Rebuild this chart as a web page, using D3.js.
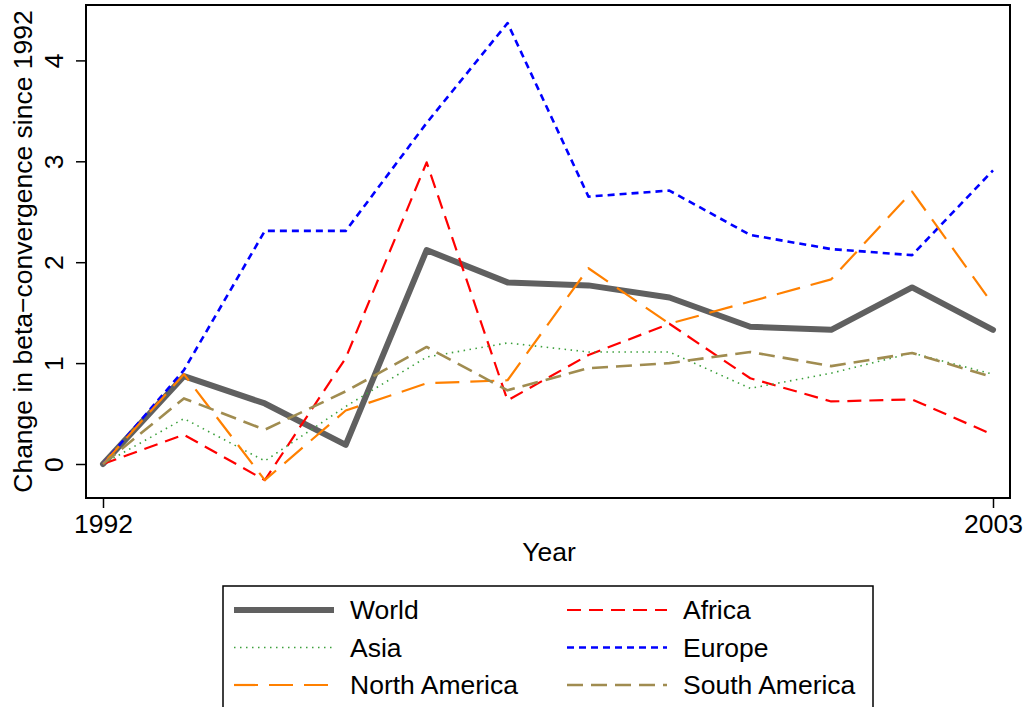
<!DOCTYPE html>
<html>
<head>
<meta charset="utf-8">
<script src="https://cdn.jsdelivr.net/npm/d3@7"></script>
<style>
  html, body { margin: 0; padding: 0; background: #fff; }
  svg text { font-family: "Liberation Sans", Arial, Helvetica, sans-serif; fill: #000; }
</style>
</head>
<body>
<svg id="chart" width="1027" height="707"></svg>
<script>
// Years covered
const years = [1992, 1993, 1994, 1995, 1996, 1997, 1998, 1999, 2000, 2001, 2002, 2003];

// Change in beta-convergence since 1992, by region
const world        = [0, 0.87, 0.60, 0.19, 2.12, 1.80, 1.77, 1.65, 1.36, 1.33, 1.75, 1.33];
const africa       = [0, 0.29, -0.16, 1.05, 2.99, 0.63, 1.08, 1.39, 0.85, 0.62, 0.64, 0.29];
const asia         = [0, 0.45, 0.03, 0.57, 1.06, 1.20, 1.11, 1.11, 0.75, 0.90, 1.10, 0.89];
const europe       = [0, 0.93, 2.31, 2.31, 3.38, 4.37, 2.65, 2.71, 2.27, 2.13, 2.07, 2.91];
const northAmerica = [0, 0.89, -0.16, 0.53, 0.80, 0.83, 1.94, 1.39, 1.61, 1.83, 2.70, 1.58];
const southAmerica = [0, 0.65, 0.34, 0.72, 1.16, 0.73, 0.95, 1.00, 1.11, 0.97, 1.10, 0.86];

const xTicks = [1992, 2003];
const yTicks = [0, 1, 2, 3, 4];

const seriesNames = ["World", "Africa", "Asia", "Europe", "North America", "South America"];
const seriesValues = [world, africa, asia, europe, northAmerica, southAmerica];

// Line styles per series
const styles = {
  "World":         { color: "#606060", width: 6,   dash: null,   cap: "round" },
  "Africa":        { color: "#ff0000", width: 2.2, dash: "14,8", cap: "butt" },
  "Asia":          { color: "#3ca03c", width: 1.6, dash: "1.5,4.5", cap: "butt" },
  "Europe":        { color: "#0000ff", width: 2.6, dash: "7,5",  cap: "butt" },
  "North America": { color: "#ff8000", width: 2.2, dash: "24,11", cap: "butt" },
  "South America": { color: "#a08c50", width: 2.6, dash: "16,8", cap: "butt" }
};

const fontSize = "26.5px";

const svg = d3.select("#chart");

const frame = { left: 86, right: 1010, top: 5, bottom: 498 };

const x = d3.scaleLinear().domain([1992, 2003]).range([103, 993]);
const y = d3.scaleLinear().domain([0, 4]).range([464, 60.4]);

// Series lines
const line = d3.line()
  .x((d, i) => x(years[i]))
  .y(d => y(d));

seriesNames.forEach((name, k) => {
  const s = styles[name];
  svg.append("path")
    .datum(seriesValues[k])
    .attr("d", line)
    .attr("fill", "none")
    .attr("stroke", s.color)
    .attr("stroke-width", s.width)
    .attr("stroke-linejoin", "round")
    .attr("stroke-linecap", s.cap)
    .attr("stroke-dasharray", s.dash);
});

// Plot frame
svg.append("rect")
  .attr("x", frame.left).attr("y", frame.top)
  .attr("width", frame.right - frame.left)
  .attr("height", frame.bottom - frame.top)
  .attr("fill", "none")
  .attr("stroke", "#000")
  .attr("stroke-width", 2);

// Y axis
const yAxis = svg.append("g")
  .attr("transform", `translate(${frame.left},0)`)
  .call(d3.axisLeft(y).tickValues(yTicks).tickSize(10).tickFormat(d3.format("d")));
yAxis.select(".domain").remove();
yAxis.selectAll(".tick line").attr("stroke", "#000").attr("stroke-width", 1.5);
yAxis.selectAll(".tick text")
  .attr("x", 0).attr("y", 0).attr("dy", null)
  .attr("transform", "translate(-23,0) rotate(-90)")
  .attr("text-anchor", "middle")
  .style("font-size", fontSize)
  .style("font-family", "'Liberation Sans', Arial, sans-serif");

// X axis
const xAxis = svg.append("g")
  .attr("transform", `translate(0,${frame.bottom})`)
  .call(d3.axisBottom(x).tickValues(xTicks).tickSize(10).tickFormat(d3.format("d")));
xAxis.select(".domain").remove();
xAxis.selectAll(".tick line").attr("stroke", "#000").attr("stroke-width", 1.5);
xAxis.selectAll(".tick text")
  .attr("y", 35).attr("dy", null)
  .attr("text-anchor", "middle")
  .style("font-size", fontSize)
  .style("font-family", "'Liberation Sans', Arial, sans-serif");

// Axis titles
svg.append("text")
  .attr("x", 549).attr("y", 561)
  .attr("text-anchor", "middle")
  .style("font-size", fontSize)
  .text("Year");

svg.append("text")
  .attr("transform", `translate(32,${(frame.top + frame.bottom) / 2}) rotate(-90)`)
  .attr("text-anchor", "middle")
  .style("font-size", fontSize)
  .text("Change in beta\u2212convergence since 1992");

// Legend
const legend = svg.append("g");
legend.append("rect")
  .attr("x", 223).attr("y", 586)
  .attr("width", 650).attr("height", 140)
  .attr("fill", "none")
  .attr("stroke", "#000")
  .attr("stroke-width", 1.5);

const legendCols = [{ x0: 234, x1: 334, tx: 350 }, { x0: 567, x1: 667, tx: 683 }];
const legendRows = [610, 647.5, 685];

seriesNames.forEach((name, k) => {
  const col = legendCols[k % 2];
  const rowY = legendRows[Math.floor(k / 2)];
  const s = styles[name];
  legend.append("line")
    .attr("x1", col.x0).attr("x2", col.x1)
    .attr("y1", rowY).attr("y2", rowY)
    .attr("stroke", s.color)
    .attr("stroke-width", s.width)
    .attr("stroke-linecap", "butt")
    .attr("stroke-dasharray", s.dash);
  legend.append("text")
    .attr("x", col.tx).attr("y", rowY + 9)
    .style("font-size", fontSize)
    .text(name);
});
</script>
</body>
</html>
